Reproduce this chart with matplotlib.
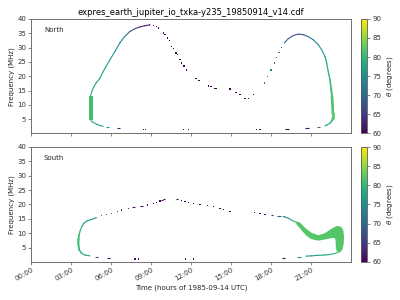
import numpy as np
import matplotlib
matplotlib.use("Agg")
import matplotlib.pyplot as plt
from matplotlib.collections import LineCollection
from matplotlib.colors import Normalize
from matplotlib.cm import ScalarMappable

# ---------------- data (time in hours UTC, frequency in MHz, theta in degrees) ----------------
title = "expres_earth_jupiter_io_txka-y235_19850914_v14.cdf"
xtick_pos = [0, 3, 6, 9, 12, 15, 18, 21]
xtick_labels = ["00:00", "03:00", "06:00", "09:00", "12:00", "15:00", "18:00", "21:00"]
ytick_pos = [5, 10, 15, 20, 25, 30, 35, 40]
cbar_ticks = [60, 65, 70, 75, 80, 85, 90]

# North: left rising branch (continuous)
n_left_t = [4.45, 4.55, 4.70, 4.85, 5.15, 5.50, 5.90, 6.30, 6.65, 7.00, 7.40, 7.80, 8.15, 8.50, 8.90]
n_left_f = [13.0, 14.8, 16.3, 17.5, 19.3, 22.5, 25.7, 28.8, 31.6, 33.8, 35.6, 36.6, 37.2, 37.6, 37.9]
n_left_th = [80, 79, 78, 78, 77, 77, 76.5, 76, 75, 72, 69, 66, 64, 63, 62]
# North: vertical band (outline)
n_band_t = [4.30, 4.60, 4.60, 4.30]
n_band_f = [4.7, 4.7, 13.2, 13.2]
n_band_th = 81
# North: lower-left curve
n_low_t = [4.45, 4.55, 4.65, 4.90, 5.15, 5.40]
n_low_f = [4.8, 4.2, 3.9, 3.25, 2.8, 2.5]
n_low_th = [80, 80, 79, 78, 77, 76]
# North: descending sparse dots
n_dots_t = [8.90, 9.20, 9.41, 9.53, 9.90, 10.03, 10.20, 10.35, 10.53, 10.65, 10.86, 10.95, 11.16, 11.28,
            11.46, 11.66, 12.36, 12.58, 13.28, 13.48, 13.78, 13.91, 14.86, 14.96, 15.36, 15.66, 16.03,
            16.28, 16.65, 8.40, 8.55, 11.40, 11.78, 16.90, 17.16]
n_dots_f = [37.97, 37.6, 37.3, 36.8, 35.1, 34.5, 33.3, 32.4, 30.4, 29.8, 28.1, 27.5, 25.7, 24.6,
            23.6, 22.2, 19.1, 18.4, 16.6, 16.3, 15.8, 15.8, 15.5, 15.5, 14.4, 13.5, 12.3,
            12.3, 13.5, 1.5, 1.5, 1.3, 1.3, 1.3, 1.3]
n_dots_th = [62, 62, 61, 61, 61, 60, 60, 60, 60, 60, 60, 60, 60, 60,
             60, 60, 60, 60, 60, 60, 60, 60, 60, 60, 60, 60, 60,
             60, 60, 60, 60, 60, 60, 60, 60]
# North: right rising sparse dots
n_rdots_t = [17.48, 17.73, 17.98, 18.23, 18.41, 18.58, 18.78]
n_rdots_f = [17.6, 19.9, 22.2, 24.6, 26.5, 28.4, 30.0]
n_rdots_th = [73, 73, 73, 72, 72, 72, 71]
# North: right branch (continuous)
n_right_t = [18.98, 19.28, 19.66, 20.03, 20.41, 20.78, 21.16, 21.53, 21.79, 22.03, 22.16, 22.28, 22.41,
             22.50, 22.56, 22.60, 22.62, 22.62, 22.58, 22.41, 22.20, 22.03]
n_right_f = [31.6, 33.1, 34.2, 34.7, 34.5, 33.8, 32.7, 31.0, 29.2, 26.9, 24.6, 21.6, 18.7,
             15.5, 13.0, 10.0, 7.0, 5.5, 4.6, 3.6, 3.0, 2.7]
n_right_th = [71, 69, 67, 67, 68, 70, 73, 75, 76, 77, 78, 79, 80,
              81, 81, 82, 82, 82, 81, 79, 77, 76]
n_right_lw = [0.8, 0.8, 0.8, 0.8, 0.8, 0.8, 0.8, 0.8, 0.8, 0.9, 0.9, 1.0, 1.2,
              1.4, 1.9, 1.9, 1.9, 1.5, 1.1, 0.8, 0.8]
# North: short horizontal dashes
n_dash_t0 = [5.60, 6.40, 19.00, 20.50, 21.40]
n_dash_t1 = [5.80, 6.65, 19.30, 20.80, 21.65]
n_dash_f = [2.3, 1.85, 1.5, 1.85, 2.2]
n_dash_th = [76, 62, 61, 61, 70]

# South: left branch (continuous)
s_left_t = [4.40, 4.03, 3.78, 3.60, 3.53, 3.55, 3.60, 3.68, 3.80, 3.95, 4.20, 4.53, 4.90]
s_left_f = [2.1, 2.4, 3.0, 4.2, 6.5, 8.0, 9.5, 11.0, 12.3, 13.5, 14.3, 14.8, 15.4]
s_left_th = [76, 77, 78, 80, 81, 81, 80, 79, 78, 77, 76, 75, 74]
s_left_lw = [0.8, 0.8, 1.0, 1.4, 1.6, 1.2, 0.9, 0.8, 0.8, 0.8, 0.8, 0.8]
# South: sparse dots
s_dots_t = [5.28, 5.66, 6.03, 6.45, 6.78, 7.28, 8.70, 9.15, 9.41, 9.66, 11.28, 11.53, 11.78, 12.15,
            12.66, 13.20, 13.65, 14.16, 14.40, 14.91, 16.73, 17.16, 17.53, 7.78, 8.03, 11.60, 12.15]
s_dots_f = [16.1, 16.6, 16.9, 17.5, 18.1, 18.7, 19.8, 20.2, 20.6, 21.2, 21.5, 21.1, 20.8, 20.4,
            20.1, 19.7, 19.4, 18.7, 18.3, 17.6, 17.3, 16.9, 16.6, 1.0, 1.0, 1.0, 1.0]
s_dots_th = [73, 71, 69, 67, 65, 63, 61, 60, 60, 60, 60, 60, 60, 60,
             60, 60, 60, 60, 60, 60, 60, 60, 61, 60, 60, 60, 60]
# South: short horizontal dashes
s_dash_t0 = [7.55, 8.15, 9.72, 9.90, 10.85, 17.95, 18.45, 4.80, 5.70, 18.80, 19.95]
s_dash_t1 = [7.75, 8.40, 9.90, 10.05, 11.00, 18.15, 18.70, 5.00, 5.92, 19.05, 20.20]
s_dash_f = [19.1, 19.5, 21.6, 21.8, 21.8, 16.2, 15.9, 1.6, 1.3, 1.3, 1.65]
s_dash_th = [62, 61, 60, 60, 60, 63, 68, 66, 60, 60, 75]
# South: short link into the band
s_link_t = [18.90, 19.03, 19.30, 19.55, 19.80]
s_link_f = [15.8, 15.65, 15.2, 14.5, 13.9]
s_link_th = [70, 74, 76, 78, 80]
# South: S-shaped band (outline)
s_band_t = [19.78, 20.16, 20.53, 21.03, 21.53, 22.03, 22.54, 22.91, 23.23, 23.41, 23.46, 23.44, 23.35, 23.16,
            22.91, 22.84, 22.84, 22.78, 22.54, 22.03, 21.53, 21.03, 20.66, 20.28, 19.91]
s_band_f = [14.2, 13.7, 11.9, 10.1, 9.3, 10.0, 11.6, 12.5, 12.3, 11.0, 8.7, 6.4, 4.4, 3.2,
            3.7, 5.2, 7.0, 8.3, 8.3, 7.8, 7.4, 7.9, 9.0, 11.0, 13.0]
s_band_th = 82
# South: bottom-right curve
s_low_t = [20.60, 21.03, 21.53, 22.03, 22.28, 22.78, 23.03]
s_low_f = [2.0, 2.1, 2.3, 2.4, 2.5, 2.9, 3.4]
s_low_th = [76, 76, 77, 77, 78, 80, 81]

# ---------------- styling ----------------
plt.rcParams['font.family'] = ['DejaVu Sans']
plt.rcParams['font.size'] = 5
edge = '0.35'
cmap = plt.get_cmap('viridis')
norm = Normalize(vmin=60, vmax=90)

fig = plt.figure(figsize=(4, 3), dpi=100)
ax1 = fig.add_axes([0.078, 0.555, 0.800, 0.382])
ax2 = fig.add_axes([0.078, 0.127, 0.800, 0.383])
cax1 = fig.add_axes([0.902, 0.555, 0.016, 0.382])
cax2 = fig.add_axes([0.902, 0.127, 0.016, 0.383])


def seg_lines(ax, t, f, th, lw=None):
    pts = np.column_stack([t, f])
    segs = np.stack([pts[:-1], pts[1:]], axis=1)
    th = np.asarray(th, dtype=float)
    cols = cmap(norm((th[:-1] + th[1:]) / 2))
    if lw is None:
        lw = 0.8
    lc = LineCollection(segs, colors=cols, linewidths=lw, capstyle='round', joinstyle='round')
    ax.add_collection(lc)


def dots(ax, t, f, th):
    ax.scatter(t, f, c=th, cmap=cmap, norm=norm, marker='s', s=0.8, linewidths=0)


def dashes(ax, t0, t1, f, th):
    ax.hlines(f, t0, t1, colors=cmap(norm(np.asarray(th, dtype=float))), linewidth=0.8)


# North panel
ax1.fill(n_band_t, n_band_f, color=cmap(norm(n_band_th)), lw=0)
seg_lines(ax1, n_left_t, n_left_f, n_left_th)
seg_lines(ax1, n_low_t, n_low_f, n_low_th)
seg_lines(ax1, n_right_t, n_right_f, n_right_th, n_right_lw)
dots(ax1, n_dots_t, n_dots_f, n_dots_th)
dots(ax1, n_rdots_t, n_rdots_f, n_rdots_th)
dashes(ax1, n_dash_t0, n_dash_t1, n_dash_f, n_dash_th)

# South panel
ax2.fill(s_band_t, s_band_f, color=cmap(norm(s_band_th)), lw=0)
seg_lines(ax2, s_left_t, s_left_f, s_left_th, s_left_lw)
seg_lines(ax2, s_link_t, s_link_f, s_link_th)
seg_lines(ax2, s_low_t, s_low_f, s_low_th)
dots(ax2, s_dots_t, s_dots_f, s_dots_th)
dashes(ax2, s_dash_t0, s_dash_t1, s_dash_f, s_dash_th)

for ax, name in ((ax1, "North"), (ax2, "South")):
    ax.set_xlim(0, 24)
    ax.set_ylim(0, 40)
    ax.set_xticks(xtick_pos)
    ax.set_yticks(ytick_pos)
    ax.set_ylabel("Frequency (MHz)", fontsize=5, color='0.15', labelpad=2)
    ax.text(0.04, 0.9, name, transform=ax.transAxes, fontsize=5, color='0.15', va='center')
    for s in ax.spines.values():
        s.set_color(edge)
        s.set_linewidth(0.6)
    ax.tick_params(length=2, width=0.5, color=edge, labelsize=5, labelcolor='0.2', pad=1.5)

ax1.set_xticklabels([])
ax2.set_xticklabels(xtick_labels, rotation=30, ha='right', rotation_mode='anchor')
ax2.set_xlabel("Time (hours of 1985-09-14 UTC)", fontsize=5, color='0.15', labelpad=2)
ax1.set_title(title, fontsize=6, pad=3)

for cax in (cax1, cax2):
    sm = ScalarMappable(norm=norm, cmap=cmap)
    cb = fig.colorbar(sm, cax=cax, ticks=cbar_ticks)
    cb.outline.set_edgecolor(edge)
    cb.outline.set_linewidth(0.6)
    cax.tick_params(length=2, width=0.5, color=edge, labelsize=5, labelcolor='0.2', pad=1.5)
    cb.set_label(r"$\theta$ (degrees)", fontsize=5, color='0.15', labelpad=3)

fig.savefig("out.png", dpi=100)
